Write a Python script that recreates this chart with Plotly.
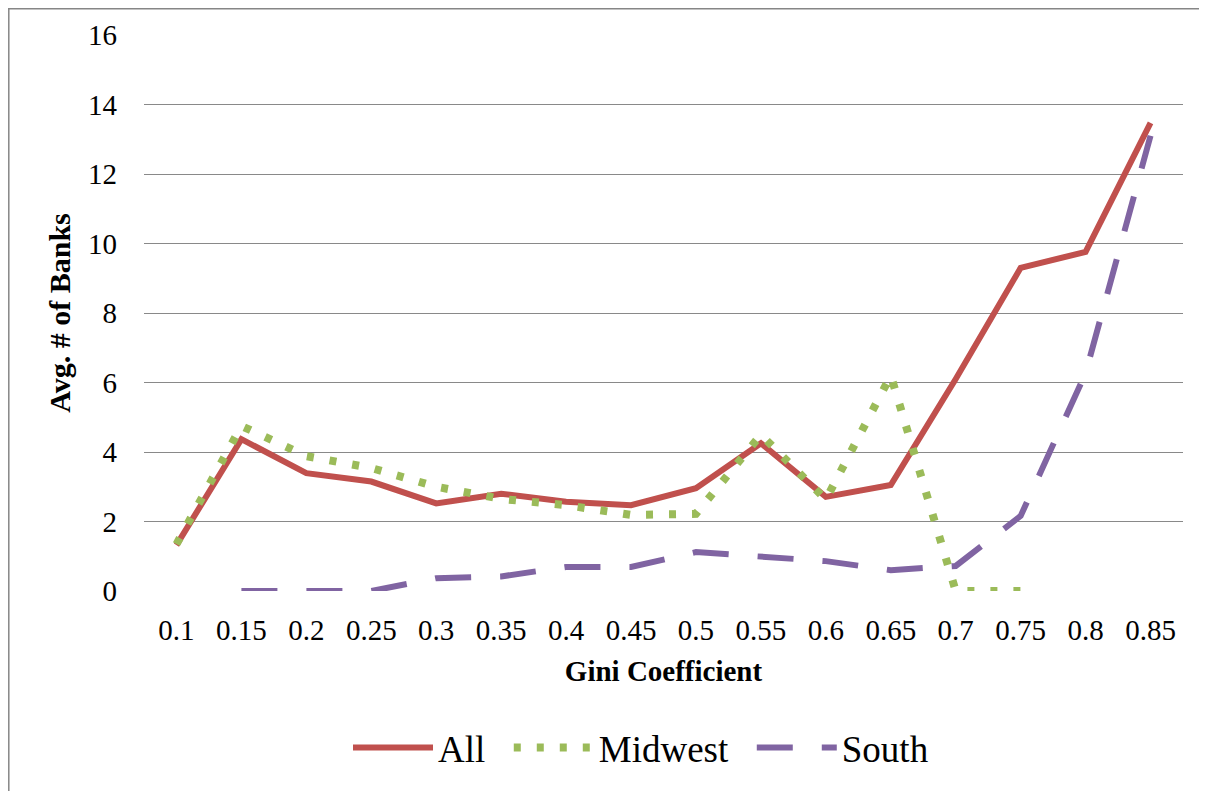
import plotly.graph_objects as go

categories = ["0.1", "0.15", "0.2", "0.25", "0.3", "0.35", "0.4", "0.45",
              "0.5", "0.55", "0.6", "0.65", "0.7", "0.75", "0.8", "0.85"]
all_vals = [1.32, 4.37, 3.39, 3.15, 2.52, 2.80, 2.57, 2.47,
            2.96, 4.25, 2.71, 3.05, 6.10, 9.30, 9.76, 13.47]
midwest_vals = [1.35, 4.75, 3.88, 3.54, 3.00, 2.65, 2.47, 2.19,
                2.22, 4.50, 2.63, 6.20, 0.0, 0.0, None, None]
south_vals = [None, 0.0, 0.0, 0.0, 0.37, 0.42, 0.69, 0.69,
              1.12, 0.98, 0.86, 0.60, 0.72, 2.16, 6.27, 13.10]
y_ticks = [0, 2, 4, 6, 8, 10, 12, 14, 16]
series_names = ["All", "Midwest", "South"]

FONT = "Liberation Serif"
PAD = "\u00a0\u00a0"

fig = go.Figure()
fig.add_trace(go.Scatter(x=categories, y=all_vals, name=series_names[0] + PAD,
                         mode="lines", line=dict(color="#C0504D", width=6)))
fig.add_trace(go.Scatter(x=categories, y=midwest_vals, name=series_names[1] + PAD,
                         mode="lines",
                         line=dict(color="#9BBB59", width=8, dash="7px,16px")))
fig.add_trace(go.Scatter(x=categories, y=south_vals, name=series_names[2],
                         mode="lines",
                         line=dict(color="#8064A2", width=6, dash="36px,29px")))

# page content is offset by the 8px body margin
W, H = 1207, 791
L, T = 136, 27
R = W - 1175
B = H - 583
pw, ph = W - L - R, H - T - B

def px_x(p):
    return (p - L) / pw

def px_y(p):
    return (H - B - p) / ph

fig.update_layout(
    width=W, height=H,
    margin=dict(l=L, r=R, t=T, b=B),
    paper_bgcolor="white", plot_bgcolor="white",
    font=dict(family=FONT, color="black", size=29),
    showlegend=True,
    legend=dict(orientation="h", x=px_x(633), xanchor="center",
                y=px_y(740), yanchor="middle",
                font=dict(size=37, family=FONT, color="black"), itemwidth=80,
                bgcolor="rgba(0,0,0,0)"),
    xaxis=dict(type="category", range=[-0.5, 15.5], showgrid=False,
               showline=False, ticks="", zeroline=False,
               tickfont=dict(size=29, family=FONT), ticklabelstandoff=19,
               title=dict(text="<b>Gini Coefficient</b>", standoff=15,
                          font=dict(size=29, family=FONT))),
    yaxis=dict(range=[0, 16], tickvals=y_ticks, showgrid=True,
               gridcolor="#898989", gridwidth=1.4, zeroline=False,
               showline=False, ticks="",
               tickfont=dict(size=29, family=FONT), ticklabelstandoff=26,
               title=dict(text="<b>Avg. # of Banks</b>", standoff=8,
                          font=dict(size=30, family=FONT))),
    shapes=[
        dict(type="line", xref="paper", yref="paper",
             x0=px_x(0.8), x1=px_x(0.8), y0=px_y(0), y1=px_y(H),
             line=dict(color="#868686", width=1.5), layer="below"),
        dict(type="line", xref="paper", yref="paper",
             x0=px_x(0), x1=px_x(W), y0=px_y(0.8), y1=px_y(0.8),
             line=dict(color="#868686", width=1.5), layer="below"),
    ],
)

fig.write_html("out.html")
